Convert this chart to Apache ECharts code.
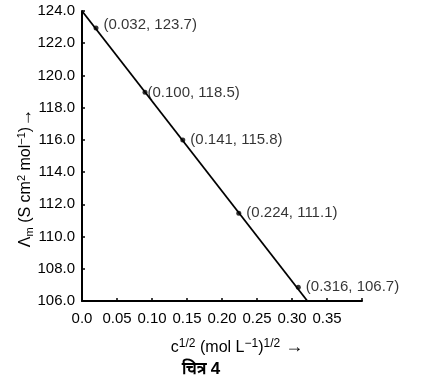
<!DOCTYPE html>
<html><head><meta charset="utf-8">
<script src="https://cdn.jsdelivr.net/npm/echarts@6/dist/echarts.min.js"></script>
<style>html,body{margin:0;padding:0;background:#fff}#c{width:427px;height:380px}</style>
</head><body><div id="c"></div>
<script>
// point positions as drawn
var pointX = [0.020, 0.090, 0.144, 0.224, 0.309];
var pointY = [122.95, 118.95, 116.0, 111.45, 106.85];
// point annotations as printed
var pointLabels = ['(0.032, 123.7)', '(0.100, 118.5)', '(0.141, 115.8)', '(0.224, 111.1)', '(0.316, 106.7)'];
var lineX = [0, 0.322];
var lineY = [124.0, 106.0];
var xTicks = [0, 0.05, 0.10, 0.15, 0.20, 0.25, 0.30, 0.35];

var F = '"Liberation Sans", Arial, sans-serif';
var chart = echarts.init(document.getElementById('c'));
chart.setOption({
  animation: false,
  backgroundColor: '#fff',
  textStyle: {fontFamily: F},
  grid: {left: 82, right: 65, top: 11, bottom: 79},
  xAxis: {
    type: 'value', min: 0, max: 0.4, interval: 0.05,
    axisLine: {show: true, lineStyle: {color: '#000', width: 2}},
    axisTick: {show: true, inside: true, length: 3, lineStyle: {color: '#000', width: 1.5}},
    splitLine: {show: false},
    axisLabel: {color: '#000', fontSize: 15, fontFamily: F, margin: 10,
      formatter: function (v) {
        var i = xTicks.findIndex(function (t) { return Math.abs(t - v) < 1e-9; });
        if (i < 0) return '';
        return v === 0 ? '0.0' : xTicks[i].toFixed(2);
      }},
    name: '{n|c}{s|1/2}{n| (mol L}{s|−1}{n|)}{s|1/2}{a| →}',
    nameLocation: 'middle', nameGap: 37,
    nameTextStyle: {rich: {
      n: {fontSize: 16, color: '#000', fontFamily: F, verticalAlign: 'bottom', lineHeight: 18},
      s: {fontSize: 12, color: '#000', fontFamily: F, verticalAlign: 'top', lineHeight: 18, padding: [0,0,7,0]},
      a: {fontSize: 18, color: '#000', fontFamily: F, fontWeight: 'bold', verticalAlign: 'bottom', lineHeight: 18}
    }, padding: [0, 0, 0, 30]}
  },
  yAxis: {
    type: 'value', min: 106, max: 124, interval: 2,
    axisLine: {show: true, lineStyle: {color: '#000', width: 2}},
    axisTick: {show: true, inside: true, length: 3, lineStyle: {color: '#000', width: 1.5}},
    splitLine: {show: false},
    axisLabel: {color: '#000', fontSize: 15, fontFamily: F, margin: 7,
      formatter: function (v) { return v.toFixed(1); }},
    name: '{n|Λ}{b|m}{n| (S cm}{s|2}{n| mol}{s|−1}{n|)}{a|→}',
    nameLocation: 'middle', nameGap: 46, nameRotate: 90, nameMoveOverlap: false,
    nameTextStyle: {rich: {
      n: {fontSize: 16, color: '#000', fontFamily: F, lineHeight: 20},
      s: {fontSize: 11, color: '#000', fontFamily: F, lineHeight: 20, padding: [0,0,8,0]},
      b: {fontSize: 11, color: '#000', fontFamily: F, lineHeight: 20, padding: [8,0,0,0]},
      a: {fontSize: 18, color: '#000', fontFamily: F, fontWeight: 'bold', lineHeight: 20}
    }, padding: [0, 44, 0, 0]}
  },
  graphic: [{
    type: 'text', left: 182, top: 361,
    style: {text: 'चित्र 4', fontSize: 17, fontWeight: 'bold', fill: '#000', fontFamily: F}
  }],
  series: [{
    type: 'line', data: lineX.map(function (x, i) { return [x, lineY[i]]; }),
    symbol: 'none', lineStyle: {color: '#000', width: 1.8}, silent: true
  }, {
    type: 'scatter', data: pointX.map(function (x, i) {
      var d = {value: [x, pointY[i]], name: pointLabels[i]};
      if (i === 1) d.label = {distance: 0};
      if (i === 0) d.label = {offset: [0, -3]};
      return d;
    }),
    symbol: 'circle', symbolSize: 5, itemStyle: {color: '#000'},
    label: {show: true, position: 'right', distance: 5, color: '#000', fontSize: 15, fontFamily: F,
      formatter: function (p) { return p.name; }}
  }]
});
</script></body></html>
